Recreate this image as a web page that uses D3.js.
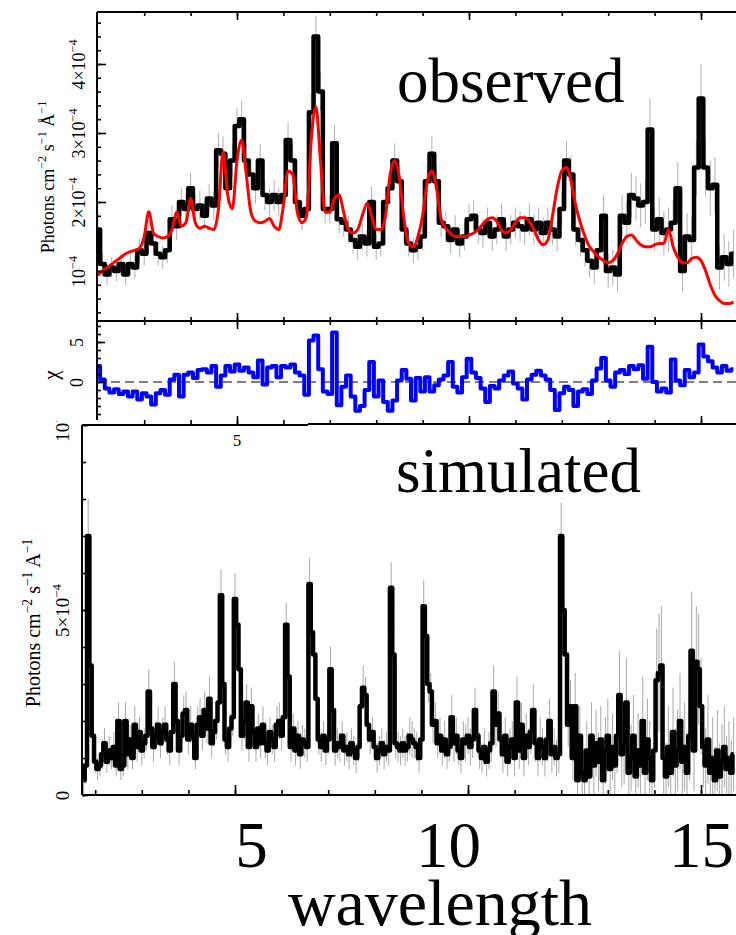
<!DOCTYPE html>
<html lang="en">
<head>
<meta charset="UTF-8">
<title>Observed and simulated spectra</title>
<script src="https://d3js.org/d3.v7.min.js"></script>
<style>
    body { margin: 0; background: #fff; }
    svg { display: block; }
    text { font-family: "Liberation Serif", "Times New Roman", serif; fill: #000; }
    .axis .domain { display: none; }
    .axis line { stroke: #000; stroke-width: 1.6; }
    .frame { stroke: #000; stroke-width: 2; fill: none; }
</style>
</head>
<body>
<script>
// observed spectrum, 0.1 A bins starting at 2.0 A, units of 1e-4 photons cm^-2 s^-1 A^-1
const obsStart = 2.0, obsStep = 0.1;
const observed = [
    1.6, 1.1, 0.95, 1.05, 1.0, 1.1, 0.95, 1.1, 1.05, 1.3,
    1.25, 1.55, 1.4, 1.25, 1.2, 1.3, 1.75, 1.65, 2.0, 1.9,
    2.2, 1.9, 1.95, 1.8, 2.05, 1.95, 2.75, 2.7, 2.2, 2.6,
    3.1, 3.2, 2.6, 2.4, 2.2, 2.6, 2.1, 2.0, 2.1, 2.0,
    2.1, 2.9, 2.6, 2.0, 1.8, 1.9, 3.3, 4.4, 3.6, 1.9,
    1.9, 2.85, 1.75, 1.7, 1.6, 1.45, 1.35, 1.5, 1.4, 2.0,
    1.35, 1.4, 2.0, 2.2, 2.6, 2.3, 1.6, 1.4, 1.3, 1.35,
    1.5, 2.3, 2.7, 2.3, 1.7, 1.65, 1.45, 1.6, 1.4, 1.5,
    1.75, 1.8, 1.6, 1.55, 1.7, 1.5, 1.6, 1.75, 1.5, 1.6,
    1.7, 1.65, 1.6, 1.75, 1.6, 1.7, 1.55, 1.7, 1.6, 1.5,
    1.9, 2.6, 2.4, 1.6, 1.45, 1.3, 1.15, 1.05, 1.3, 1.8,
    1.0, 1.05, 0.95, 1.8, 1.7, 2.1, 2.05, 1.95, 2.0, 3.05,
    1.6, 1.75, 1.55, 1.6, 1.7, 2.2, 1.0, 1.5, 1.45, 2.5,
    3.5, 2.5, 2.2, 2.25, 1.05, 1.2, 1.1, 1.25
];
const observedErr = [
    0.25, 0.18, 0.15, 0.15, 0.15, 0.16, 0.15, 0.16, 0.16, 0.17,
    0.17, 0.19, 0.18, 0.17, 0.17, 0.18, 0.2, 0.2, 0.21, 0.21,
    0.22, 0.21, 0.21, 0.2, 0.21, 0.21, 0.25, 0.25, 0.23, 0.24,
    0.26, 0.27, 0.24, 0.23, 0.22, 0.24, 0.22, 0.21, 0.22, 0.21,
    0.22, 0.26, 0.25, 0.22, 0.21, 0.21, 0.27, 0.3, 0.28, 0.21,
    0.21, 0.26, 0.2, 0.2, 0.2, 0.19, 0.19, 0.2, 0.19, 0.22,
    0.19, 0.19, 0.22, 0.23, 0.25, 0.24, 0.2, 0.19, 0.19, 0.19,
    0.2, 0.24, 0.26, 0.24, 0.21, 0.21, 0.2, 0.21, 0.2, 0.2,
    0.22, 0.22, 0.21, 0.21, 0.22, 0.21, 0.21, 0.22, 0.21, 0.21,
    0.22, 0.22, 0.22, 0.23, 0.22, 0.22, 0.22, 0.22, 0.22, 0.22,
    0.25, 0.28, 0.27, 0.24, 0.24, 0.24, 0.24, 0.24, 0.26, 0.3,
    0.25, 0.26, 0.26, 0.3, 0.3, 0.32, 0.32, 0.32, 0.32, 0.45,
    0.3, 0.32, 0.32, 0.32, 0.33, 0.38, 0.3, 0.33, 0.33, 0.4,
    0.5, 0.42, 0.4, 0.4, 0.32, 0.34, 0.33, 0.34
];
// fitted model, same bins
const model = [
    0.94, 1.0, 1.05, 1.1, 1.15, 1.2, 1.25, 1.28, 1.3, 1.33,
    1.5, 1.86, 1.55, 1.5, 1.48, 1.5, 1.6, 1.86, 1.65, 1.7,
    2.05, 1.7, 1.62, 1.65, 1.62, 1.6, 1.9, 2.73, 2.1, 1.9,
    2.6, 2.9, 2.4, 1.85, 1.72, 1.7, 1.72, 1.76, 1.65, 1.6,
    1.95, 2.45, 2.4, 1.85, 1.7, 1.8, 2.9, 3.38, 2.6, 1.85,
    1.85, 2.05, 2.1, 1.85, 1.6, 1.55, 1.6, 1.8, 1.98, 1.8,
    1.6, 1.6, 1.8, 2.4, 2.6, 2.35, 1.75, 1.4, 1.35, 1.5,
    1.8, 2.3, 2.45, 2.2, 1.75, 1.62, 1.55, 1.5, 1.5, 1.5,
    1.52, 1.55, 1.6, 1.68, 1.75, 1.77, 1.72, 1.6, 1.55, 1.6,
    1.7, 1.77, 1.77, 1.72, 1.6, 1.45, 1.38, 1.45, 1.8, 2.2,
    2.45, 2.5, 2.3, 1.95, 1.7, 1.5, 1.35, 1.27, 1.2, 1.15,
    1.12, 1.15, 1.25, 1.4, 1.5, 1.52, 1.45, 1.38, 1.35, 1.35,
    1.38, 1.4, 1.4, 1.6, 1.35, 1.2, 1.12, 1.12, 1.18, 1.2,
    1.15, 1.0, 0.8, 0.65, 0.57, 0.53, 0.53, 0.55
];
// residuals, same bins
const chi = [
    2.0, 0.3, -0.8, -1.3, -0.9, -1.5, -1.2, -1.8, -1.2, -2.2,
    -1.4, -1.8, -2.8, -1.4, -1.0, -1.6, 0.3, 0.9, -1.8, 0.9,
    1.2, 0.5, 1.5, 1.6, 1.2, 2.0, -0.6, 0.8, 2.0, 1.3,
    2.2, 1.4, 1.8, 1.2, 0.6, 2.7, -0.3, 1.8, 2.0, 0.6,
    2.0, 1.8, 2.2, 1.2, 0.8, -1.6, 5.2, 5.8, 1.6, -1.2,
    -1.5, 6.2, -2.9, -0.6, 0.8, -1.8, -3.6, -3.0, -1.0, 2.5,
    -1.8, 0.2, -2.5, -3.6, -2.3, 0.2, 1.5, 0.4, -2.3, 0.5,
    -1.2, 0.6, -1.2, -0.4, 0.3, 0.8, 2.5, -0.6, -1.3, 0.6,
    2.9, 1.2, 0.5, -0.8, -2.5, -0.5, -0.8, 0.2, 0.8, 1.3,
    -0.2, -0.8, -2.2, 0.3, 0.9, 1.4, 0.8, 0.3, -1.0, -3.5,
    -1.4, -0.6, -1.0, -3.0, -1.2, -0.9, -1.5, 0.2, 1.7, 3.0,
    0.2, -0.6, 1.2, 1.5, 1.0, 2.0, 1.6, 2.1, 0.4, 4.4,
    0.0, -1.2, -0.8, -1.3, 2.8, 0.2, -0.4, 1.5, 0.6, 1.2,
    4.7, 3.2, 2.6, 1.8, 1.2, 2.0, 1.4, 1.6
];
// simulated spectrum, 0.05 A bins starting at 1.75 A, units of 1e-4
const simStart = 1.75, simStep = 0.05;
const simulated = [
    0.4, 0.8, 7.0, 3.5, 1.6,
    0.9, 0.7, 0.8, 1.1, 1.4, 0.9, 1.2, 1.0, 1.3, 0.8,
    2.0, 0.7, 0.8, 2.0, 1.1, 1.5, 1.0, 1.9, 1.3, 1.7,
    1.2, 1.4, 1.6, 2.8, 1.8, 1.3, 1.6, 1.9, 1.4, 1.7,
    1.9, 1.5, 1.2, 1.7, 3.0, 2.0, 1.2, 1.6, 2.2, 2.3,
    1.5, 1.9, 1.6, 1.0, 1.9, 2.1, 1.6, 2.3, 1.8, 2.6,
    1.4, 1.7, 2.0, 2.5, 5.4, 3.0, 1.5, 1.3, 1.8, 2.1,
    5.3, 4.6, 3.4, 1.6, 2.0, 2.5, 1.3, 2.4, 1.7, 1.3,
    1.8, 1.4, 1.9, 1.4, 1.2, 1.7, 1.5, 1.3, 1.9, 2.0,
    1.6, 2.1, 4.6, 3.2, 1.3, 1.8, 1.2, 1.6, 1.1, 1.5,
    1.4, 1.3, 5.7, 4.4, 3.8, 2.6, 1.5, 1.3, 1.6, 1.2,
    1.5, 3.4, 2.3, 1.2, 1.4, 1.3, 1.6, 1.2, 1.3, 1.1,
    1.4, 1.2, 1.0, 1.3, 2.4, 2.9, 2.7, 1.9, 1.5, 1.7,
    1.3, 1.0, 1.2, 1.4, 1.1, 1.3, 1.2, 5.6, 3.8, 1.4,
    1.3, 1.2, 1.4, 1.2, 1.3, 1.6, 1.5, 1.4, 1.3, 1.0,
    1.5, 5.1, 4.3, 3.0, 2.8, 1.9, 2.0, 1.4, 1.6, 1.2,
    1.5, 1.1, 1.3, 2.1, 1.4, 1.6, 1.2, 1.0, 1.5, 1.4,
    1.6, 1.3, 1.5, 2.3, 1.6, 1.2, 1.0, 1.3, 0.9, 1.2,
    1.4, 2.8, 1.9, 2.2, 1.5, 1.1, 1.6, 0.9, 1.3, 1.5,
    1.0, 2.5, 1.2, 1.9, 1.0, 1.6, 1.3, 1.7, 2.3, 1.4,
    1.0, 1.5, 1.3, 1.0, 1.5, 2.0, 1.1, 1.3, 1.0, 1.1,
    7.0, 5.0, 3.8, 1.9, 2.4, 1.0, 2.4, 0.4, 1.6, 0.6,
    0.4, 1.2, 0.5, 1.6, 0.8, 1.4, 0.9, 1.5, 0.4, 1.2,
    1.6, 0.7, 1.3, 0.8, 1.6, 2.7, 1.1, 1.3, 2.5, 0.6,
    1.0, 1.6, 0.5, 1.2, 0.8, 2.0, 0.6, 1.5, 1.0, 0.4,
    1.2, 3.1, 3.3, 3.5, 1.0, 0.5, 1.3, 0.6, 1.7, 0.8,
    1.2, 2.0, 0.9, 1.3, 0.6, 1.6, 3.9, 1.2, 3.6, 3.4,
    2.4, 1.3, 0.8, 1.5, 0.6, 1.0, 0.4, 1.2, 0.5, 0.9,
    1.3, 0.7, 1.0, 0.6, 1.1
];
const simulatedErr = [
    0.4, 0.5, 1.0, 0.8, 0.4,
    0.3, 0.3, 0.3, 0.4, 0.4, 0.3, 0.4, 0.3, 0.4, 0.3,
    0.5, 0.3, 0.3, 0.5, 0.4, 0.4, 0.3, 0.5, 0.4, 0.4,
    0.4, 0.4, 0.4, 0.6, 0.4, 0.4, 0.4, 0.5, 0.4, 0.4,
    0.5, 0.4, 0.4, 0.4, 0.6, 0.5, 0.4, 0.4, 0.5, 0.5,
    0.4, 0.5, 0.4, 0.3, 0.5, 0.5, 0.4, 0.5, 0.4, 0.6,
    0.4, 0.4, 0.5, 0.5, 0.7, 0.6, 0.4, 0.4, 0.4, 0.5,
    0.7, 0.6, 0.6, 0.4, 0.5, 0.5, 0.4, 0.5, 0.4, 0.4,
    0.4, 0.4, 0.5, 0.4, 0.4, 0.4, 0.4, 0.4, 0.5, 0.5,
    0.4, 0.5, 0.6, 0.6, 0.4, 0.4, 0.4, 0.4, 0.4, 0.4,
    0.4, 0.4, 0.7, 0.6, 0.6, 0.5, 0.4, 0.4, 0.4, 0.4,
    0.4, 0.6, 0.5, 0.4, 0.4, 0.4, 0.4, 0.4, 0.4, 0.4,
    0.4, 0.4, 0.4, 0.4, 0.5, 0.6, 0.5, 0.5, 0.4, 0.4,
    0.4, 0.4, 0.4, 0.4, 0.4, 0.4, 0.4, 0.7, 0.6, 0.4,
    0.4, 0.4, 0.4, 0.4, 0.4, 0.5, 0.5, 0.4, 0.4, 0.4,
    0.4, 0.7, 0.6, 0.5, 0.5, 0.5, 0.5, 0.4, 0.5, 0.4,
    0.5, 0.4, 0.4, 0.6, 0.5, 0.5, 0.4, 0.4, 0.5, 0.5,
    0.5, 0.5, 0.5, 0.6, 0.5, 0.5, 0.4, 0.5, 0.4, 0.5,
    0.5, 0.7, 0.6, 0.6, 0.5, 0.5, 0.5, 0.4, 0.5, 0.5,
    0.5, 0.7, 0.5, 0.6, 0.5, 0.6, 0.5, 0.6, 0.7, 0.5,
    0.5, 0.6, 0.5, 0.5, 0.6, 0.6, 0.5, 0.5, 0.5, 0.5,
    0.9, 0.8, 0.7, 0.6, 0.7, 0.6, 0.9, 0.6, 0.8, 0.7,
    0.7, 0.8, 0.7, 0.9, 0.8, 0.9, 0.8, 0.9, 0.7, 0.9,
    1.0, 0.8, 0.9, 0.8, 1.0, 1.2, 0.9, 1.0, 1.2, 0.8,
    0.9, 1.1, 0.8, 1.0, 0.9, 1.2, 0.9, 1.1, 1.0, 0.8,
    1.0, 1.4, 1.6, 1.6, 1.0, 0.9, 1.1, 0.9, 1.2, 1.0,
    1.1, 1.3, 1.0, 1.2, 0.9, 1.2, 1.6, 1.1, 1.5, 1.5,
    1.3, 1.1, 1.0, 1.2, 0.9, 1.1, 0.9, 1.1, 0.9, 1.0,
    1.1, 0.9, 1.0, 0.9, 1.0
];

// tick labels
const topMajorTicks = [1, 2, 3, 4];
const topTickLabels = [[["10", 0], ["\u22124", 1]], [["2\u00d710", 0], ["\u22124", 1]],
                       [["3\u00d710", 0], ["\u22124", 1]], [["4\u00d710", 0], ["\u22124", 1]]];
const chiMajorTicks = [0, 5];
const chiTickLabels = [[["0", 0]], [["5", 0]]];
const botMajorTicks = [0, 5, 10];
const botTickLabels = [[["0", 0]], [["5\u00d710", 0], ["\u22124", 1]], [["10", 0], ["\u22123", 1]]];
const waveMajorTicks = [5, 10, 15];

const width = 736, height = 935;
const svg = d3.select("body").append("svg")
    .attr("width", width)
    .attr("height", height);

// scales (flux in 1e-4 units)
const xTop = d3.scaleLinear().domain([5, 15]).range([237, 701]);
const yTop = d3.scaleLinear().domain([1, 4]).range([271, 64]);
const yChi = d3.scaleLinear().domain([0, 5]).range([382, 342]);
const xBot = d3.scaleLinear().domain([5, 15]).range([235, 701]);
const yBot = d3.scaleLinear().domain([0, 10]).range([795, 425]);
const xBig = d3.scaleLinear().domain([5, 10, 15]).range([251, 448, 701]);

const topBox = {x0: 97, x1: 740, y0: 12, y1: 321};
const chiBox = {x0: 97, x1: 740, y0: 321, y1: 424};
const botBox = {x0: 82, x1: 740, y0: 425, y1: 795};

const defs = svg.append("defs");
function clip(id, b) {
    defs.append("clipPath").attr("id", id).append("rect")
        .attr("x", b.x0).attr("y", b.y0)
        .attr("width", b.x1 - b.x0).attr("height", b.y1 - b.y0);
    return `url(#${id})`;
}

// text with superscripts
function richText(sel, parts, size) {
    sel.text(null);
    let up = false;
    parts.forEach(([t, sup]) => {
        const dy = sup ? (up ? 0 : -0.42 * size) : (up ? 0.42 * size : 0);
        sel.append("tspan")
            .attr("font-size", sup ? size * 0.68 : size)
            .attr("dy", dy)
            .text(t);
        up = !!sup;
    });
}

function styleRotated(g, dx, labels, size) {
    g.attr("font-family", null).attr("font-size", null);
    g.selectAll(".tick text")
        .attr("x", null).attr("dy", null)
        .attr("text-anchor", "middle")
        .attr("transform", `translate(${dx},0) rotate(-90)`)
        .each(function(d, i) { richText(d3.select(this), labels[i], size); });
}

function ticks(axis, values, size) {
    return axis.tickValues(values).tickSize(size).tickFormat("");
}

const line = (x, y) => d3.line().x(d => x(d.w)).y(d => y(d.v));

// ---------- bottom figure: simulated ----------
const simData = simulated.map((v, i) => ({w: simStart + i * simStep, v: v, e: simulatedErr[i]}));
const gBot = svg.append("g").attr("clip-path", clip("clipBot", botBox));

gBot.selectAll(".errBot")
    .data(simData)
    .enter()
    .append("line")
    .attr("x1", d => xBot(d.w)).attr("x2", d => xBot(d.w))
    .attr("y1", d => yBot(d.v - d.e)).attr("y2", d => yBot(d.v + d.e))
    .attr("stroke", "#a8a8a8")
    .attr("stroke-width", 1);

gBot.append("path")
    .datum(simData)
    .attr("d", line(xBot, yBot).curve(d3.curveStep))
    .attr("fill", "none")
    .attr("stroke", "#000")
    .attr("stroke-width", 4.5)
    .attr("stroke-linejoin", "round");

// frame of bottom panel
svg.append("line").attr("class", "frame")
    .attr("x1", botBox.x0).attr("x2", botBox.x0).attr("y1", botBox.y0).attr("y2", botBox.y1);
svg.append("line").attr("class", "frame")
    .attr("x1", botBox.x0).attr("x2", width).attr("y1", botBox.y1).attr("y2", botBox.y1);
svg.append("line").attr("class", "frame")
    .attr("x1", botBox.x0).attr("x2", 308).attr("y1", botBox.y0).attr("y2", botBox.y0);

svg.append("g").attr("class", "axis")
    .attr("transform", `translate(${botBox.x0},0)`)
    .call(ticks(d3.axisLeft(yBot), d3.range(0, 11), -4));
const botLeft = svg.append("g")
    .attr("clip-path", clip("clipBotLab", {x0: 0, x1: 100, y0: 421, y1: 900}))
    .append("g").attr("class", "axis")
    .attr("transform", `translate(${botBox.x0},0)`)
    .call(d3.axisLeft(yBot).tickValues(botMajorTicks).tickSize(-6));
styleRotated(botLeft, -13, botTickLabels, 19);

svg.append("g").attr("class", "axis")
    .attr("transform", `translate(0,${botBox.y1})`)
    .call(ticks(d3.axisBottom(xBot), d3.range(2, 16), -5));
svg.append("g").attr("class", "axis")
    .attr("transform", `translate(0,${botBox.y1})`)
    .call(ticks(d3.axisBottom(xBot), waveMajorTicks, -10));

// big wavelength labels
const bigAxis = svg.append("g").attr("class", "axis")
    .attr("transform", "translate(0,819)")
    .call(d3.axisBottom(xBig).tickValues(waveMajorTicks).tickSize(0).tickPadding(0));
bigAxis.attr("font-family", null).attr("font-size", null);
bigAxis.selectAll(".tick text")
    .attr("dy", null).attr("y", 48)
    .attr("font-size", 65);

svg.append("text")
    .attr("x", 440).attr("y", 925)
    .attr("text-anchor", "middle")
    .attr("font-size", 66)
    .text("wavelength");

svg.append("text")
    .attr("transform", "translate(40,623) rotate(-90)")
    .attr("text-anchor", "middle")
    .call(t => richText(t, [["Photons cm", 0], ["\u22122", 1], [" s", 0], ["\u22121", 1], [" A", 0], ["\u22121", 1]], 20));

svg.append("text")
    .attr("x", 396).attr("y", 492)
    .attr("font-size", 63)
    .text("simulated");

// ---------- top figure: observed + model ----------
const obsData = observed.map((v, i) => ({w: obsStart + i * obsStep, v: v, e: observedErr[i]}));
const modelData = model.map((v, i) => ({w: obsStart + i * obsStep, v: v}));
const chiData = chi.map((v, i) => ({w: obsStart + i * obsStep, v: v}));

const gTop = svg.append("g").attr("clip-path", clip("clipTop", topBox));
gTop.selectAll(".errTop")
    .data(obsData)
    .enter()
    .append("line")
    .attr("x1", d => xTop(d.w)).attr("x2", d => xTop(d.w))
    .attr("y1", d => yTop(d.v - d.e)).attr("y2", d => yTop(d.v + d.e))
    .attr("stroke", "#b0b0b0")
    .attr("stroke-width", 1);

gTop.append("path")
    .datum(obsData)
    .attr("d", line(xTop, yTop).curve(d3.curveStep))
    .attr("fill", "none")
    .attr("stroke", "#000")
    .attr("stroke-width", 4.5)
    .attr("stroke-linejoin", "round");

gTop.append("path")
    .datum(modelData)
    .attr("d", line(xTop, yTop).curve(d3.curveMonotoneX))
    .attr("fill", "none")
    .attr("stroke", "#ff0000")
    .attr("stroke-width", 3);

// chi panel
const gChi = svg.append("g").attr("clip-path", clip("clipChi", chiBox));
gChi.append("line")
    .attr("x1", chiBox.x0).attr("x2", width)
    .attr("y1", yChi(0)).attr("y2", yChi(0))
    .attr("stroke", "#555")
    .attr("stroke-width", 1.3)
    .attr("stroke-dasharray", "9,5");
gChi.append("path")
    .datum(chiData)
    .attr("d", line(xTop, yChi).curve(d3.curveStep))
    .attr("fill", "none")
    .attr("stroke", "#0000ff")
    .attr("stroke-width", 4)
    .attr("stroke-linejoin", "round");

// frames of top figure
svg.append("line").attr("class", "frame")
    .attr("x1", topBox.x0).attr("x2", topBox.x0).attr("y1", topBox.y0).attr("y2", chiBox.y1 - 4);
svg.append("line").attr("class", "frame")
    .attr("x1", topBox.x0).attr("x2", width).attr("y1", topBox.y0).attr("y2", topBox.y0);
svg.append("line").attr("class", "frame")
    .attr("x1", topBox.x0).attr("x2", width).attr("y1", topBox.y1).attr("y2", topBox.y1);
svg.append("line").attr("class", "frame")
    .attr("x1", 308).attr("x2", width).attr("y1", chiBox.y1).attr("y2", chiBox.y1);

// top panel axes
svg.append("g").attr("class", "axis")
    .attr("transform", `translate(${topBox.x0},0)`)
    .call(ticks(d3.axisLeft(yTop), d3.range(2, 24).map(d => d / 5), -4));
const topLeft = svg.append("g").attr("class", "axis")
    .attr("transform", `translate(${topBox.x0},0)`)
    .call(d3.axisLeft(yTop).tickValues(topMajorTicks).tickSize(-9));
styleRotated(topLeft, -12, topTickLabels, 18);

[[topBox.y0, d3.axisTop], [topBox.y1, d3.axisBottom], [topBox.y1, d3.axisTop],
 [chiBox.y1, d3.axisBottom]].forEach(([y, ax]) => {
    svg.append("g").attr("class", "axis")
        .attr("transform", `translate(0,${y})`)
        .call(ticks(ax(xTop), d3.range(3, 16), -4));
    svg.append("g").attr("class", "axis")
        .attr("transform", `translate(0,${y})`)
        .call(ticks(ax(xTop), waveMajorTicks, -8));
});

// chi axis
svg.append("g").attr("class", "axis")
    .attr("transform", `translate(${chiBox.x0},0)`)
    .call(ticks(d3.axisLeft(yChi), d3.range(-4, 8), -4));
const chiLeft = svg.append("g").attr("class", "axis")
    .attr("transform", `translate(${chiBox.x0},0)`)
    .call(d3.axisLeft(yChi).tickValues(chiMajorTicks).tickSize(-8));
styleRotated(chiLeft, -14, chiTickLabels, 18);

svg.append("text")
    .attr("x", xTop(5)).attr("y", 446)
    .attr("text-anchor", "middle")
    .attr("font-size", 17)
    .text("5");

svg.append("text")
    .attr("transform", "translate(58,375) rotate(-90)")
    .attr("text-anchor", "middle")
    .attr("font-size", 21)
    .text("\u03c7");

svg.append("text")
    .attr("transform", "translate(54,177) rotate(-90)")
    .attr("text-anchor", "middle")
    .call(t => richText(t, [["Photons cm", 0], ["\u22122", 1], [" s", 0], ["\u22121", 1], [" \u00c5", 0], ["\u22121", 1]], 18));

svg.append("text")
    .attr("x", 397).attr("y", 102)
    .attr("font-size", 63)
    .text("observed");
</script>
</body>
</html>
